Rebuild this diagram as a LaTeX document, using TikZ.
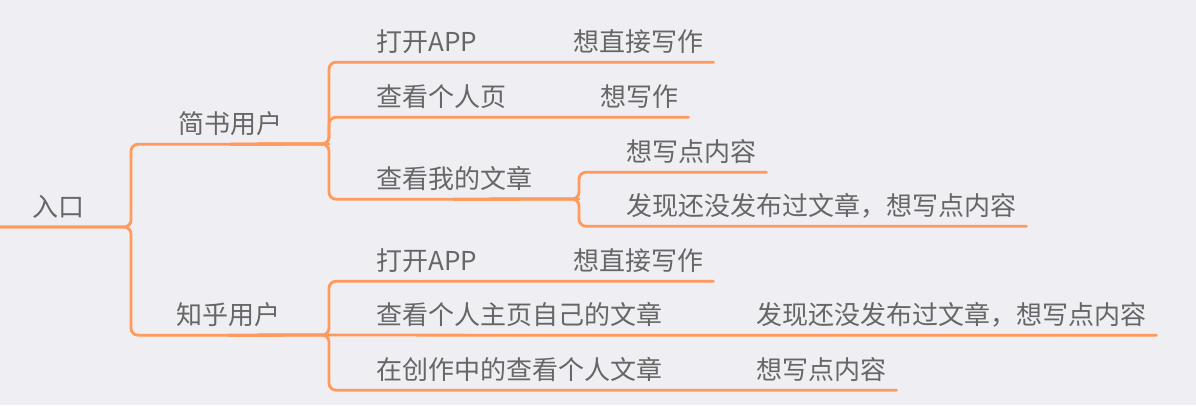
\documentclass[tikz,border=0pt]{standalone}
\usepackage{fontspec}
\newfontfamily\cjk{Noto Sans CJK SC}
\usepackage{tikz}
\definecolor{linkorange}{HTML}{FF9A5C}
\definecolor{txtgray}{HTML}{666666}
\definecolor{paper}{HTML}{EFEEF3}

\begin{document}
\begin{tikzpicture}[x=1pt, y=-1pt,
  topic/.style = {anchor=base west, inner xsep=10pt, inner ysep=0pt,
      text depth=11pt, text=txtgray, font=\cjk\fontsize{26}{30}\selectfont},
  branch/.style = {draw=linkorange, line width=2.8pt, rounded corners=7pt,
      line cap=round}
  ]
  \fill[paper] (0,0) rectangle (1196,405);
  \useasboundingbox (0,0) rectangle (1196,405);
  % forks
  \coordinate (rootL) at (0,227);
  \coordinate (f0) at (131,227);
  \coordinate (f1) at (329,144);
  \coordinate (f1z) at (329,335);
  \coordinate (f2) at (579,199);
  % topics
  \node[topic] (root) at (22,216) {入口};
  \node[topic] (jianshu) at (168,133) {简书用户};
  \node[topic] (zhihu) at (166,324) {知乎用户};
  \node[topic] (j1) at (366,51) {打开APP};
  \node[topic] (j1a) at (563,51) {想直接写作};
  \node[topic] (j2) at (366,106) {查看个人页};
  \node[topic] (j2a) at (590,106) {想写作};
  \node[topic] (j3) at (366,188) {查看我的文章};
  \node[topic] (j3a) at (616,161) {想写点内容};
  \node[topic] (j3b) at (616,215) {发现还没发布过文章，想写点内容};
  \node[topic] (z1) at (366,270) {打开APP};
  \node[topic] (z1a) at (563,270) {想直接写作};
  \node[topic] (z2) at (366,324) {查看个人主页自己的文章};
  \node[topic] (z2a) at (746,324) {发现还没发布过文章，想写点内容};
  \node[topic] (z3) at (366,379) {在创作中的查看个人文章};
  \node[topic] (z3a) at (746,379) {想写点内容};
  % branches
  \draw[branch] (rootL) -- (f0) |- (jianshu.south) -- (f1);
  \draw[branch] (rootL) -- (f0) |- (zhihu.south) -- (f1z);
  \draw[branch] (jianshu.south) -- (f1) |- (j1.south) -- (j1a.south east);
  \draw[branch] (jianshu.south) -- (f1) |- (j2.south) -- (j2a.south east);
  \draw[branch] (jianshu.south) -- (f1) |- (j3.south) -- (f2);
  \draw[branch] (j3.south) -- (f2) |- (j3a.south east);
  \draw[branch] (j3.south) -- (f2) |- (j3b.south east);
  \draw[branch] (zhihu.south) -- (f1z) |- (z1.south) -- (z1a.south east);
  \draw[branch] (f1z) -- (z2.south) -- (z2a.south east);
  \draw[branch] (zhihu.south) -- (f1z) |- (z3.south) -- (z3a.south east);
\end{tikzpicture}
\end{document}
